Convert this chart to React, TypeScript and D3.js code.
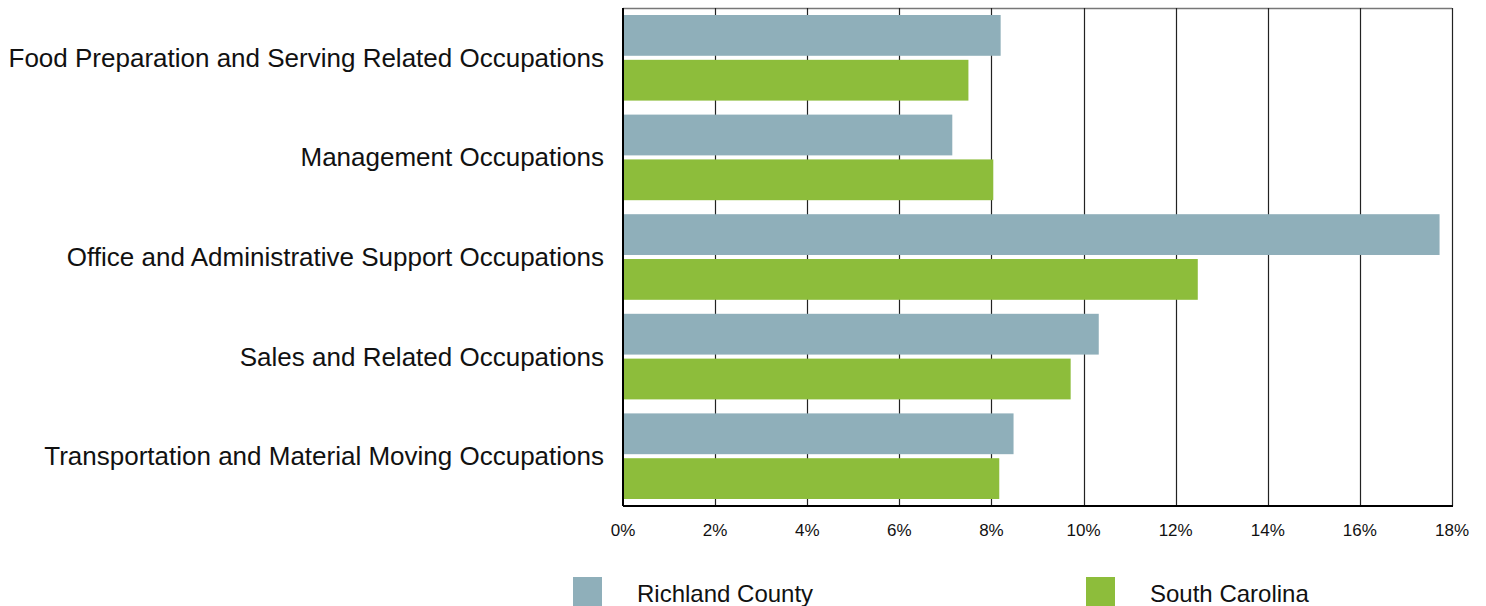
import React from "react";
import * as d3 from "d3";

const categories = [
  "Food Preparation and Serving Related Occupations",
  "Management Occupations",
  "Office and Administrative Support Occupations",
  "Sales and Related Occupations",
  "Transportation and Material Moving Occupations",
];
const seriesNames = ["Richland County", "South Carolina"];
const richland = [8.2, 7.15, 17.73, 10.33, 8.48];
const southCarolina = [7.5, 8.04, 12.48, 9.72, 8.17];
const ticks = [0, 2, 4, 6, 8, 10, 12, 14, 16, 18];
const colors = ["#8FAFBA", "#8DBD3B"];

export default function App() {
  const W = 1486, H = 606;
  const left = 623, right = 1452, top = 8, bottom = 506;
  const x = d3.scaleLinear().domain([0, 18]).range([left, right]);
  const y = d3.scaleBand<string>().domain(categories).range([top, bottom]).padding(0);
  const bw = y.bandwidth();
  const inner = d3.scaleBand<string>().domain(seriesNames).range([7, bw - 7]).paddingInner(0.09);
  const values = [richland, southCarolina];
  const font = "'Liberation Sans', Arial, sans-serif";

  return (
    <svg width={W} height={H} style={{ position: "absolute", left: 0, top: 0 }} fontFamily={font}>
      <rect x={0} y={0} width={W} height={H} fill="#fff" />
      <line x1={left} x2={right} y1={top + 0.5} y2={top + 0.5} stroke="#777" strokeWidth={1.5} />
      {ticks.slice(1).map((t) => (
        <line key={t} x1={Math.round(x(t)) + 0.5} x2={Math.round(x(t)) + 0.5} y1={top} y2={bottom} stroke="#222" strokeWidth={1.2} />
      ))}
      {categories.map((c, i) =>
        seriesNames.map((s, j) => (
          <rect
            key={c + s}
            x={x(0)}
            y={(y(c) as number) + (inner(s) as number)}
            width={x(values[j][i]) - x(0)}
            height={inner.bandwidth()}
            fill={colors[j]}
          />
        ))
      )}
      <line x1={left} x2={left} y1={top} y2={bottom} stroke="#000" strokeWidth={2} />
      <line x1={left} x2={right + 1} y1={bottom} y2={bottom} stroke="#000" strokeWidth={2} />
      {categories.map((c) => (
        <text key={c} x={604} y={(y(c) as number) + bw / 2} textAnchor="end" dominantBaseline="central" fontSize={26} fill="#111">
          {c}
        </text>
      ))}
      {ticks.map((t) => (
        <text key={t} x={x(t)} y={530} textAnchor="middle" dominantBaseline="central" fontSize={17} fill="#111">
          {t + "%"}
        </text>
      ))}
      {seriesNames.map((s, j) => {
        const lx = [573, 1086][j];
        return (
          <g key={s}>
            <rect x={lx} y={577} width={29} height={29} fill={colors[j]} />
            <text x={lx + 64} y={593} dominantBaseline="central" fontSize={24} fill="#111">
              {s}
            </text>
          </g>
        );
      })}
    </svg>
  );
}
